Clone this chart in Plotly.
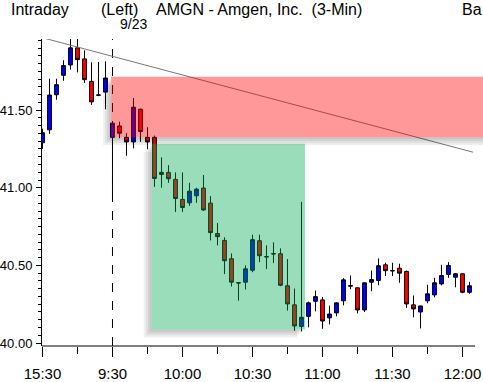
import plotly.graph_objects as go

# ---------------- data ----------------
bar_times = ["15:30", "15:33", "15:36", "15:39", "15:42", "15:45", "15:48", "15:51", "15:54", "15:57",
             "9:30", "9:33", "9:36", "9:39", "9:42", "9:45", "9:48", "9:51", "9:54", "9:57",
             "10:00", "10:03", "10:06", "10:09", "10:12", "10:15", "10:18", "10:21", "10:24", "10:27",
             "10:30", "10:33", "10:36", "10:39", "10:42", "10:45", "10:48", "10:51", "10:54", "10:57",
             "11:00", "11:03", "11:06", "11:09", "11:12", "11:15", "11:18", "11:21", "11:24", "11:27",
             "11:30", "11:33", "11:36", "11:39", "11:42", "11:45", "11:48", "11:51", "11:54", "11:57",
             "12:00", "12:03"]

opens = [41.290, 41.373, 41.599, 41.724, 41.791, 41.901, 41.830, 41.685, 41.598, 41.616,
         41.325, 41.398, 41.325, 41.295, 41.506, 41.325, 41.325, 41.086, 41.099, 41.054,
         40.925, 40.903, 40.948, 40.998, 40.901, 40.705, 40.661, 40.543, 40.389, 40.392,
         40.469, 40.659, 40.557, 40.576, 40.575, 40.369, 40.246, 40.107, 40.172, 40.269,
         40.278, 40.162, 40.194, 40.272, 40.366, 40.356, 40.213, 40.392, 40.403, 40.504,
         40.467, 40.482, 40.461, 40.246, 40.200, 40.272, 40.310, 40.381, 40.442, 40.424,
         40.446, 40.327]
highs = [41.380, 41.702, 41.702, 41.821, 41.960, 41.960, 41.885, 41.808, 41.810, 41.814,
         41.430, 41.426, 41.351, 41.578, 41.510, 41.390, 41.336, 41.196, 41.146, 41.099,
         41.099, 41.032, 41.000, 41.082, 40.946, 40.773, 40.681, 40.577, 40.392, 40.500,
         40.698, 40.698, 40.629, 40.649, 40.610, 40.541, 40.351, 40.909, 40.267, 40.338,
         40.297, 40.241, 40.261, 40.418, 40.435, 40.358, 40.390, 40.467, 40.545, 40.517,
         40.517, 40.511, 40.467, 40.306, 40.240, 40.375, 40.420, 40.504, 40.521, 40.450,
         40.448, 40.394]
lows = [41.250, 41.347, 41.567, 41.689, 41.760, 41.743, 41.675, 41.534, 41.590, 41.506,
        40.952, 41.319, 41.206, 41.254, 41.295, 41.248, 41.006, 41.000, 41.032, 40.844,
        40.844, 40.883, 40.903, 40.851, 40.661, 40.629, 40.444, 40.364, 40.273, 40.345,
        40.456, 40.521, 40.476, 40.515, 40.366, 40.209, 40.080, 40.075, 40.101, 40.204,
        40.092, 40.120, 40.172, 40.243, 40.347, 40.191, 40.200, 40.334, 40.372, 40.431,
        40.431, 40.388, 40.226, 40.166, 40.094, 40.256, 40.295, 40.372, 40.420, 40.359,
        40.321, 40.317]
closes = [41.355, 41.597, 41.664, 41.787, 41.901, 41.825, 41.696, 41.553, 41.596, 41.707,
          41.416, 41.351, 41.295, 41.519, 41.362, 41.295, 41.060, 41.099, 41.058, 40.931,
          40.873, 40.978, 40.991, 40.857, 40.711, 40.685, 40.530, 40.392, 40.387, 40.478,
          40.666, 40.562, 40.555, 40.574, 40.372, 40.252, 40.110, 40.166, 40.259, 40.299,
          40.142, 40.187, 40.259, 40.407, 40.370, 40.213, 40.388, 40.409, 40.498, 40.466,
          40.465, 40.450, 40.252, 40.220, 40.239, 40.317, 40.388, 40.435, 40.500, 40.446,
          40.327, 40.369]

x_tick_labels = ["15:30", "9:30", "10:00", "10:30", "11:00", "11:30", "12:00"]
y_tick_values = [40.00, 40.50, 41.00, 41.50]

# trend line (bar index, price)
trend_x = [0.1, 61.5]
trend_y = [41.965, 41.229]

# zones: [x0, x1] bar index, [y_low, y_high] price
red_zone_x = [9.8, 70.0]
red_zone_y = [41.326, 41.715]
green_zone_x = [15.6, 37.5]
green_zone_y = [40.087, 41.283]

session_start_label = "9:30"

# ---------------- layout constants ----------------
W, H = 483, 382
ML, MR, MT, MB = 42, 0, 39, 36
PW, PH = W - ML - MR, H - MT - MB
x_range = [-0.07, 62.93]
y_range = [39.981, 41.958]
x_axis_end = 61.8

xs = list(range(len(bar_times)))
tick_idx = [bar_times.index(t) for t in x_tick_labels]
minor_idx = [i + 5 for i in tick_idx[:-1]]
session_idx = bar_times.index(session_start_label)

px_x = (x_range[1] - x_range[0]) / PW   # data units per pixel (x)
px_y = (y_range[1] - y_range[0]) / PH   # data units per pixel (y)

def paper_x(px):
    return (px - ML) / PW

def paper_y(py):
    return 1 + (MT - py) / PH

fig = go.Figure()

fig.add_trace(go.Scatter(
    x=trend_x, y=trend_y, mode="lines",
    line=dict(color="rgb(120,120,120)", width=1),
    hoverinfo="skip", showlegend=False))

fig.add_trace(go.Candlestick(
    x=xs, open=opens, high=highs, low=lows, close=closes,
    increasing=dict(fillcolor="rgb(0,0,255)", line=dict(color="black", width=1)),
    decreasing=dict(fillcolor="rgb(255,0,0)", line=dict(color="black", width=1)),
    whiskerwidth=0, showlegend=False))

shapes = []

# 9:30 session divider
shapes.append(dict(type="line", xref="x", yref="paper", x0=session_idx, x1=session_idx,
                   y0=0, y1=1, line=dict(color="black", width=1, dash="dash"), layer="below"))

# x axis line (ends at last bar)
shapes.append(dict(type="line", xref="x", yref="paper", x0=x_range[0], x1=x_axis_end,
                   y0=0, y1=0, line=dict(color="black", width=1), layer="above"))


def zone(xz, yz, color, opacity):
    out = []
    # soft drop shadow to the left and bottom
    for d in (2, 4, 6, 8):
        dx, dy = d * px_x, d * px_y
        sh = "rgba(0,0,0,0.06)"
        out.append(dict(type="rect", xref="x", yref="y", x0=xz[0] - dx, x1=xz[0],
                        y0=yz[0] - dy, y1=yz[1] - dy, fillcolor=sh, line=dict(width=0),
                        layer="above"))
        out.append(dict(type="rect", xref="x", yref="y", x0=xz[0], x1=xz[1] - dx,
                        y0=yz[0] - dy, y1=yz[0], fillcolor=sh, line=dict(width=0),
                        layer="above"))
    out.append(dict(type="rect", xref="x", yref="y", x0=xz[0], x1=xz[1], y0=yz[0], y1=yz[1],
                    fillcolor=color, opacity=opacity, line=dict(width=0), layer="above"))
    return out

shapes += zone(red_zone_x, red_zone_y, "rgb(255,0,0)", 0.4)
shapes += zone(green_zone_x, green_zone_y, "rgb(0,170,85)", 0.4)

font = "Liberation Sans, Arial, sans-serif"
annotations = [
    dict(text="Intraday", x=paper_x(9), y=paper_y(10), size=16),
    dict(text="(Left)", x=paper_x(99), y=paper_y(10), size=16),
    dict(text="AMGN - Amgen, Inc. \u00a0(3-Min)", x=paper_x(154), y=paper_y(10), size=16),
    dict(text="9/23", x=paper_x(118), y=paper_y(24), size=14),
    dict(text="Ba", x=paper_x(460), y=paper_y(10), size=16),
]
for a in annotations:
    s = a.pop("size")
    a.update(xref="paper", yref="paper", xanchor="left", yanchor="middle", showarrow=False,
             font=dict(family=font, size=s, color="black"))

fig.update_layout(
    width=W, height=H,
    margin=dict(l=ML, r=MR, t=MT, b=MB, pad=0, autoexpand=False),
    paper_bgcolor="white", plot_bgcolor="white",
    boxgap=0.22,
    shapes=shapes, annotations=annotations,
    font=dict(family=font, size=15, color="black"),
    xaxis=dict(range=x_range, tickmode="array", tickvals=tick_idx, ticktext=x_tick_labels,
               ticks="outside", ticklen=10, tickcolor="black", tickwidth=1,
               showline=False, showgrid=False, zeroline=False, automargin=False,
               ticklabelstandoff=4,
               minor=dict(tickvals=minor_idx, ticks="outside", ticklen=7, tickcolor="black",
                          showgrid=False),
               rangeslider=dict(visible=False), fixedrange=True,
               tickfont=dict(family=font, size=15, color="black")),
    yaxis=dict(range=y_range, tickmode="array", tickvals=y_tick_values, tickformat=".2f",
               ticks="outside", ticklen=5, tickcolor="black", tickwidth=1,
               showline=True, linecolor="black", linewidth=1,
               showgrid=False, zeroline=False, automargin=False,
               ticklabelstandoff=1,
               minor=dict(dtick=0.05, tick0=40, ticks="outside", ticklen=3, tickcolor="black",
                          showgrid=False),
               tickfont=dict(family=font, size=13, color="black")),
)

fig.write_html("out.html", config={"displayModeBar": False},
               post_script="document.body.style.margin='0';document.body.style.overflow='hidden';")
